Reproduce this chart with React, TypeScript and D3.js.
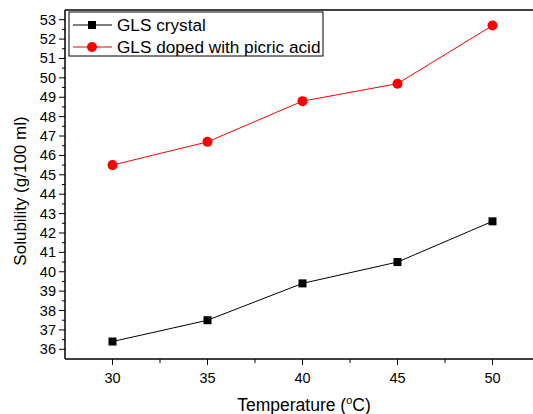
import React, { useRef, useEffect } from 'react';
import * as d3 from 'd3';

const temperatures = [30, 35, 40, 45, 50];
const glsCrystal = [36.4, 37.5, 39.4, 40.5, 42.6];
const glsDoped = [45.5, 46.7, 48.8, 49.7, 52.7];
const xTicks = [30, 35, 40, 45, 50];
const yTicks = [36, 37, 38, 39, 40, 41, 42, 43, 44, 45, 46, 47, 48, 49, 50, 51, 52, 53];

const width = 533;
const height = 414;
const font = 'Liberation Sans, Arial, sans-serif';

export default function App() {
    const svgRef = useRef<SVGSVGElement>(null);

    useEffect(() => {
        const svg = d3.select(svgRef.current);
        svg.selectAll('*').remove();

        const x = d3.scaleLinear().domain([27.5, 52.5]).range([65, 540]);
        const y = d3.scaleLinear().domain([35.5, 53.5]).range([359, 10]);

        // frame (right side is cut off by the picture)
        svg.append('path')
            .attr('d', `M65,${y(53.5)}H540M65,${y(35.5)}V${y(53.5)}M65,${y(35.5)}H540`)
            .attr('fill', 'none')
            .attr('stroke', '#000')
            .attr('stroke-width', 1.5);

        // y ticks
        const yMinor = d3.range(36.5, 53.5, 1);
        svg.append('g').selectAll('line.maj').data(yTicks).join('line')
            .attr('x1', 65).attr('x2', 59)
            .attr('y1', d => y(d)).attr('y2', d => y(d))
            .attr('stroke', '#000').attr('stroke-width', 1);
        svg.append('g').selectAll('line.min').data(yMinor).join('line')
            .attr('x1', 65).attr('x2', 62)
            .attr('y1', d => y(d)).attr('y2', d => y(d))
            .attr('stroke', '#000').attr('stroke-width', 1);
        svg.append('g').selectAll('text').data(yTicks).join('text')
            .attr('x', 56).attr('y', d => y(d) + 5)
            .attr('text-anchor', 'end')
            .attr('font-family', font).attr('font-size', 14.5)
            .text(d => d);

        // x ticks
        const xMinor = [32.5, 37.5, 42.5, 47.5];
        svg.append('g').selectAll('line').data(xTicks).join('line')
            .attr('x1', d => x(d)).attr('x2', d => x(d))
            .attr('y1', 359).attr('y2', 365)
            .attr('stroke', '#000').attr('stroke-width', 1);
        svg.append('g').selectAll('line').data(xMinor).join('line')
            .attr('x1', d => x(d)).attr('x2', d => x(d))
            .attr('y1', 359).attr('y2', 363)
            .attr('stroke', '#000').attr('stroke-width', 1);
        svg.append('g').selectAll('text').data(xTicks).join('text')
            .attr('x', d => x(d)).attr('y', 383)
            .attr('text-anchor', 'middle')
            .attr('font-family', font).attr('font-size', 14.5)
            .text(d => d);

        // axis titles
        const xt = svg.append('text')
            .attr('x', 304).attr('y', 411)
            .attr('text-anchor', 'middle')
            .attr('font-family', font).attr('font-size', 17.5);
        xt.append('tspan').text('Temperature (');
        xt.append('tspan').attr('font-size', 11).attr('dy', -7).text('o');
        xt.append('tspan').attr('dy', 7).text('C)');

        svg.append('text')
            .attr('transform', `translate(26,191) rotate(-90)`)
            .attr('text-anchor', 'middle')
            .attr('font-family', font).attr('font-size', 17)
            .text('Solubility (g/100 ml)');

        const line = d3.line<number>()
            .x((d, i) => x(temperatures[i]))
            .y(d => y(d));

        // black series
        svg.append('path').datum(glsCrystal)
            .attr('d', line).attr('fill', 'none')
            .attr('stroke', '#000').attr('stroke-width', 1);
        svg.append('g').selectAll('rect').data(glsCrystal).join('rect')
            .attr('x', (d, i) => x(temperatures[i]) - 4)
            .attr('y', d => y(d) - 4)
            .attr('width', 8).attr('height', 8)
            .attr('fill', '#000');

        // red series
        svg.append('path').datum(glsDoped)
            .attr('d', line).attr('fill', 'none')
            .attr('stroke', '#ff0000').attr('stroke-width', 1);
        svg.append('g').selectAll('circle').data(glsDoped).join('circle')
            .attr('cx', (d, i) => x(temperatures[i]))
            .attr('cy', d => y(d))
            .attr('r', 5)
            .attr('fill', '#ff0000');

        // legend
        const lg = svg.append('g');
        lg.append('rect')
            .attr('x', 69).attr('y', 12).attr('width', 254).attr('height', 44)
            .attr('fill', '#fff').attr('stroke', '#000').attr('stroke-width', 1);
        lg.append('line').attr('x1', 73).attr('x2', 112).attr('y1', 25).attr('y2', 25)
            .attr('stroke', '#000');
        lg.append('rect').attr('x', 88).attr('y', 21).attr('width', 8).attr('height', 8)
            .attr('fill', '#000');
        lg.append('text').attr('x', 117).attr('y', 31)
            .attr('font-family', font).attr('font-size', 17.2)
            .text('GLS crystal');
        lg.append('line').attr('x1', 73).attr('x2', 112).attr('y1', 47).attr('y2', 47)
            .attr('stroke', '#ff0000');
        lg.append('circle').attr('cx', 92).attr('cy', 47).attr('r', 5)
            .attr('fill', '#ff0000');
        lg.append('text').attr('x', 117).attr('y', 53)
            .attr('font-family', font).attr('font-size', 17.2)
            .text('GLS doped with picric acid');
    }, []);

    return (
        <svg ref={svgRef} width={width} height={height}
            style={{ position: 'absolute', left: 0, top: 0, background: '#fff' }} />
    );
}
